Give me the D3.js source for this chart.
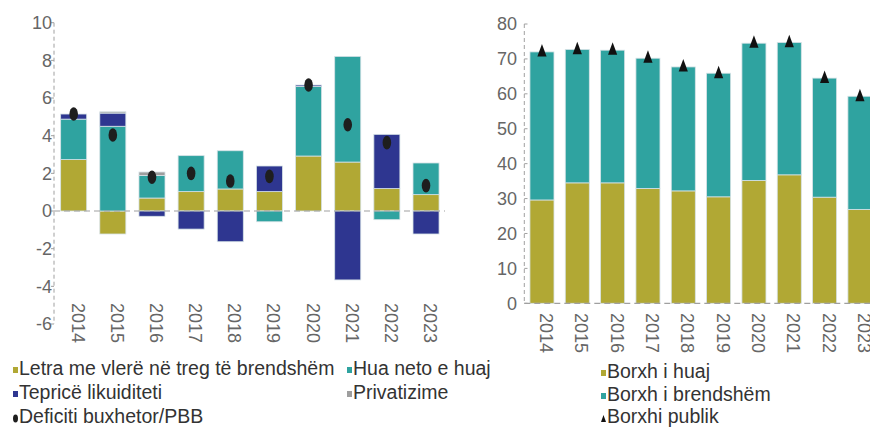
<!DOCTYPE html>
<html>
<head>
<meta charset="utf-8">
<script src="https://d3js.org/d3.v7.min.js"></script>
<style>
  body { margin: 0; background: #fff; }
  text { font-family: "Liberation Sans", Arial, sans-serif; }
</style>
</head>
<body>
<div id="chart"></div>
<script>
// data
let years = ["2014", "2015", "2016", "2017", "2018", "2019", "2020", "2021", "2022", "2023"];

// left chart: financing of deficit (% PBB)
let letra = [2.73, -1.22, 0.69, 1.03, 1.17, 1.03, 2.92, 2.60, 1.19, 0.87];
let hua = [2.15, 4.50, 1.20, 1.91, 2.03, -0.57, 3.70, 5.61, -0.46, 1.68];
let teprice = [0.27, 0.70, -0.28, -0.96, -1.63, 1.36, 0.07, -3.66, 2.88, -1.22];
let privatizime = [0, 0.07, 0.18, 0, 0, 0, 0, 0, 0, 0];
let deficiti = [5.15, 4.04, 1.79, 2.00, 1.59, 1.84, 6.69, 4.58, 3.63, 1.35];
let leftTicks = [-6, -4, -2, 0, 2, 4, 6, 8, 10];

// right chart: public debt (% PBB)
let borxhHuaj = [29.6, 34.5, 34.5, 32.9, 32.2, 30.5, 35.2, 36.8, 30.4, 26.9];
let borxhBrend = [42.4, 38.2, 38.0, 37.3, 35.5, 35.4, 39.3, 37.9, 34.1, 32.4];
let borxhPublik = [72.1, 72.8, 72.6, 70.3, 67.8, 65.9, 74.6, 74.8, 64.5, 59.3];
let rightTicks = [0, 10, 20, 30, 40, 50, 60, 70, 80];

let colors = {
  yellow: "#b1a834",
  teal: "#2fa3a0",
  blue: "#2e3690",
  gray: "#9e9e9e"
};

let width = 870;
let height = 428;

let svg = d3.select("#chart")
  .append("svg")
  .attr("width", width)
  .attr("height", height);

// ---------- left chart ----------
let leftRows = years.map(function(y, i) {
  return { year: y, letra: letra[i], hua: hua[i], teprice: teprice[i], privatizime: privatizime[i] };
});
let leftKeys = ["letra", "hua", "teprice", "privatizime"];
let leftColors = [colors.yellow, colors.teal, colors.blue, colors.gray];

let stackL = d3.stack()
  .keys(leftKeys)
  .offset(d3.stackOffsetDiverging)(leftRows);

let xL = d3.scaleBand()
  .domain(years)
  .range([54, 445.7])
  .paddingInner(0.335)
  .paddingOuter(0.17);

let yL = d3.scaleLinear()
  .domain([-6, 10])
  .range([324, 22.7]);

let gL = svg.append("g");

// axis (dashed)
gL.append("line")
  .attr("x1", 54).attr("x2", 54)
  .attr("y1", yL(10)).attr("y2", yL(-6))
  .attr("stroke", "#a0a0a0")
  .attr("stroke-dasharray", "4,3");

gL.selectAll(".tk")
  .data(leftTicks)
  .enter()
  .append("line")
  .attr("x1", 51).attr("x2", 54)
  .attr("y1", function(d) { return yL(d); })
  .attr("y2", function(d) { return yL(d); })
  .attr("stroke", "#a0a0a0");

gL.selectAll(".tl")
  .data(leftTicks)
  .enter()
  .append("text")
  .attr("x", 52)
  .attr("y", function(d) { return yL(d); })
  .attr("dy", "0.35em")
  .attr("text-anchor", "end")
  .attr("font-size", "18px")
  .attr("fill", "#666")
  .text(function(d) { return d; });

// bars
gL.append("g")
  .selectAll("g")
  .data(stackL)
  .enter()
  .append("g")
  .attr("fill", function(d, i) { return leftColors[i]; })
  .selectAll("rect")
  .data(function(d) { return d; })
  .enter()
  .append("rect")
  .attr("x", function(d) { return xL(d.data.year); })
  .attr("width", xL.bandwidth())
  .attr("y", function(d) { return yL(Math.max(d[0], d[1])); })
  .attr("height", function(d) { return Math.abs(yL(d[0]) - yL(d[1])); })
  .attr("stroke", "#d6e2e6")
  .attr("stroke-width", 0.8);

// zero line
gL.append("line")
  .attr("x1", 54).attr("x2", 445)
  .attr("y1", yL(0)).attr("y2", yL(0))
  .attr("stroke", "#a0a0a0")
  .attr("stroke-width", 1.2)
  .attr("stroke-dasharray", "6,4");

// deficit dots
gL.selectAll(".dot")
  .data(deficiti)
  .enter()
  .append("ellipse")
  .attr("cx", function(d, i) { return xL(years[i]) + xL.bandwidth() / 2; })
  .attr("cy", function(d) { return yL(d); })
  .attr("rx", 4.3)
  .attr("ry", 6.8)
  .attr("fill", "#1e1e1e");

// year labels
gL.selectAll(".yl")
  .data(years)
  .enter()
  .append("text")
  .attr("transform", function(d) {
    return "translate(" + (xL(d) + xL.bandwidth() / 2 - 2) + ",303) rotate(90)";
  })
  .attr("font-size", "18px")
  .attr("fill", "#666")
  .text(function(d) { return d; });

// ---------- right chart ----------
let rightRows = years.map(function(y, i) {
  return { year: y, huaj: borxhHuaj[i], brend: borxhBrend[i] };
});
let stackR = d3.stack().keys(["huaj", "brend"])(rightRows);
let rightColors = [colors.yellow, colors.teal];

let xR = d3.scaleBand()
  .domain(years)
  .range([524.3, 877.6])
  .paddingInner(0.32)
  .paddingOuter(0.16);

let yR = d3.scaleLinear()
  .domain([0, 80])
  .range([303.3, 24]);

let gR = svg.append("g");

gR.append("line")
  .attr("x1", 524.3).attr("x2", 524.3)
  .attr("y1", yR(80)).attr("y2", yR(0))
  .attr("stroke", "#a0a0a0")
  .attr("stroke-dasharray", "4,3");

gR.selectAll(".tk")
  .data(rightTicks)
  .enter()
  .append("line")
  .attr("x1", 524.3).attr("x2", 527.5)
  .attr("y1", function(d) { return yR(d); })
  .attr("y2", function(d) { return yR(d); })
  .attr("stroke", "#a0a0a0");

gR.selectAll(".tl")
  .data(rightTicks)
  .enter()
  .append("text")
  .attr("x", 517)
  .attr("y", function(d) { return yR(d); })
  .attr("dy", "0.35em")
  .attr("text-anchor", "end")
  .attr("font-size", "18px")
  .attr("fill", "#666")
  .text(function(d) { return d; });

gR.append("g")
  .selectAll("g")
  .data(stackR)
  .enter()
  .append("g")
  .attr("fill", function(d, i) { return rightColors[i]; })
  .selectAll("rect")
  .data(function(d) { return d; })
  .enter()
  .append("rect")
  .attr("x", function(d) { return xR(d.data.year); })
  .attr("width", xR.bandwidth())
  .attr("y", function(d) { return yR(d[1]); })
  .attr("height", function(d) { return yR(d[0]) - yR(d[1]); })
  .attr("stroke", "#d6e2e6")
  .attr("stroke-width", 0.8);

gR.append("line")
  .attr("x1", 524.3).attr("x2", 870)
  .attr("y1", yR(0)).attr("y2", yR(0))
  .attr("stroke", "#a0a0a0")
  .attr("stroke-width", 1.2)
  .attr("stroke-dasharray", "6,4");

// public debt triangles
gR.selectAll(".tri")
  .data(borxhPublik)
  .enter()
  .append("path")
  .attr("transform", function(d, i) {
    return "translate(" + (xR(years[i]) + xR.bandwidth() / 2) + "," + yR(d) + ")";
  })
  .attr("d", "M0,-7.5L4.6,5L-4.6,5Z")
  .attr("fill", "#111");

gR.selectAll(".yl")
  .data(years)
  .enter()
  .append("text")
  .attr("transform", function(d) {
    return "translate(" + (xR(d) + xR.bandwidth() / 2 - 2) + ",313) rotate(90)";
  })
  .attr("font-size", "18px")
  .attr("fill", "#666")
  .text(function(d) { return d; });

// ---------- legends ----------
let legendItems = [
  { label: "Letra me vlerë në treg të brendshëm", shape: "rect", color: colors.yellow, x: 13, y: 375 },
  { label: "Hua neto e huaj", shape: "rect", color: colors.teal, x: 347, y: 375 },
  { label: "Tepricë likuiditeti", shape: "rect", color: colors.blue, x: 13, y: 399 },
  { label: "Privatizime", shape: "rect", color: colors.gray, x: 347, y: 399 },
  { label: "Deficiti buxhetor/PBB", shape: "dot", color: "#1e1e1e", x: 13, y: 423 },
  { label: "Borxh i huaj", shape: "rect", color: colors.yellow, x: 601, y: 378 },
  { label: "Borxh i brendshëm", shape: "rect", color: colors.teal, x: 601, y: 401 },
  { label: "Borxhi publik", shape: "tri", color: "#111", x: 601, y: 423 }
];

let leg = svg.append("g")
  .selectAll("g")
  .data(legendItems)
  .enter()
  .append("g")
  .attr("transform", function(d) { return "translate(" + d.x + "," + d.y + ")"; });

leg.filter(function(d) { return d.shape == "rect"; })
  .append("rect")
  .attr("x", 0).attr("y", -8)
  .attr("width", 5).attr("height", 6)
  .attr("fill", function(d) { return d.color; });

leg.filter(function(d) { return d.shape == "dot"; })
  .append("ellipse")
  .attr("cx", 2.5).attr("cy", -4.5)
  .attr("rx", 2.5).attr("ry", 4)
  .attr("fill", function(d) { return d.color; });

leg.filter(function(d) { return d.shape == "tri"; })
  .append("path")
  .attr("d", "M2.5,-8L5,-1L0,-1Z")
  .attr("fill", function(d) { return d.color; });

leg.append("text")
  .attr("x", 6)
  .attr("font-size", "19.5px")
  .attr("fill", "#333")
  .text(function(d) { return d.label; });
</script>
</body>
</html>
